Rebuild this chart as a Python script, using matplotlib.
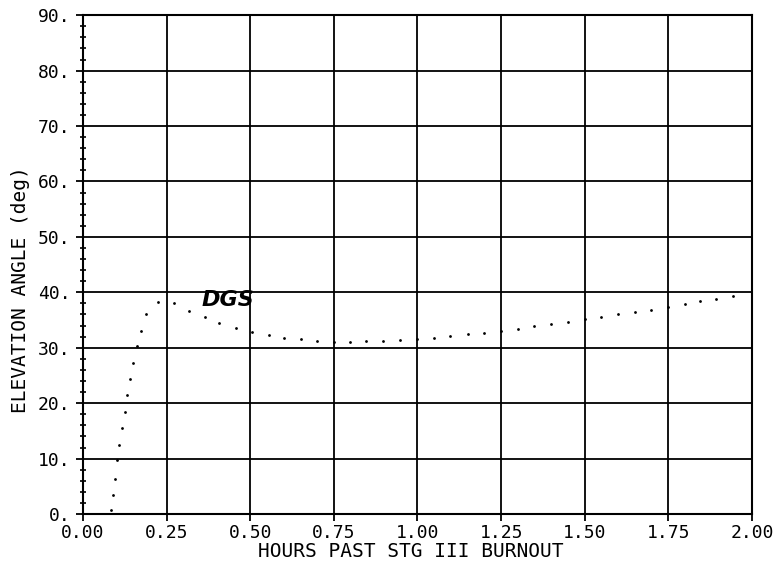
import matplotlib
matplotlib.use("Agg")
import matplotlib.pyplot as plt
from matplotlib.ticker import MultipleLocator, FormatStrFormatter
import numpy as np

# elevation angle of DGS vs time
hours = [0.085, 0.091, 0.097, 0.103, 0.109, 0.117, 0.126, 0.132, 0.141, 0.149,
         0.161, 0.172, 0.188, 0.223, 0.273, 0.318, 0.364, 0.408, 0.456, 0.505,
         0.555, 0.600, 0.652, 0.700, 0.750, 0.799, 0.847, 0.897, 0.949, 0.999,
         1.048, 1.098, 1.150, 1.200, 1.250, 1.300, 1.349, 1.400, 1.450, 1.500,
         1.549, 1.599, 1.649, 1.699, 1.749, 1.800, 1.845, 1.892, 1.942]
elev = [0.7, 3.4, 6.3, 9.7, 12.5, 15.5, 18.4, 21.4, 24.4, 27.3,
        30.3, 33.1, 36.1, 38.2, 38.0, 36.7, 35.5, 34.4, 33.5, 32.8,
        32.3, 31.8, 31.5, 31.3, 31.1, 31.1, 31.2, 31.2, 31.4, 31.6,
        31.8, 32.1, 32.4, 32.7, 33.1, 33.4, 33.9, 34.3, 34.7, 35.1,
        35.6, 36.0, 36.4, 36.8, 37.4, 37.9, 38.4, 38.8, 39.4]

station = "DGS"
mono = "DejaVu Sans Mono"

fig = plt.figure(figsize=(7.8, 5.63), dpi=100)
ax = fig.add_axes([0.1064, 0.087, 0.8577, 0.886])

ax.plot(hours, elev, linestyle="none", marker="o", markersize=2.0,
        color="black", markeredgewidth=0)

ax.set_xlim(0, 2.0)
ax.set_ylim(0, 90)
ax.xaxis.set_major_locator(MultipleLocator(0.25))
ax.yaxis.set_major_locator(MultipleLocator(10))
ax.yaxis.set_minor_locator(MultipleLocator(2))
ax.xaxis.set_major_formatter(FormatStrFormatter("%.2f"))
ax.yaxis.set_major_formatter(FormatStrFormatter("%d."))

ax.grid(True, which="major", color="black", linewidth=1.3)
for s in ax.spines.values():
    s.set_linewidth(1.5)
    s.set_color("black")

ax.tick_params(axis="both", which="major", direction="out", length=5,
               width=1.3, colors="black")
ax.tick_params(axis="y", which="minor", direction="inout", length=5, width=1.2)
ax.tick_params(axis="x", which="major", labelsize=13, pad=2)
ax.tick_params(axis="y", which="major", labelsize=13, pad=4)
for lab in ax.get_xticklabels() + ax.get_yticklabels():
    lab.set_fontfamily(mono)

ax.set_xlabel("HOURS PAST STG III BURNOUT", fontfamily=mono, fontsize=14,
              va="center")
ax.xaxis.set_label_coords(0.49, -0.076)
ax.set_ylabel("ELEVATION ANGLE (deg)", fontfamily=mono, fontsize=14,
              va="center")
ax.yaxis.set_label_coords(-0.094, 0.45)

ax.text(0.434, 38.6, station, fontsize=16, fontweight="bold",
        fontstyle="italic", ha="center", va="center")

fig.savefig("out.png", dpi=100)
